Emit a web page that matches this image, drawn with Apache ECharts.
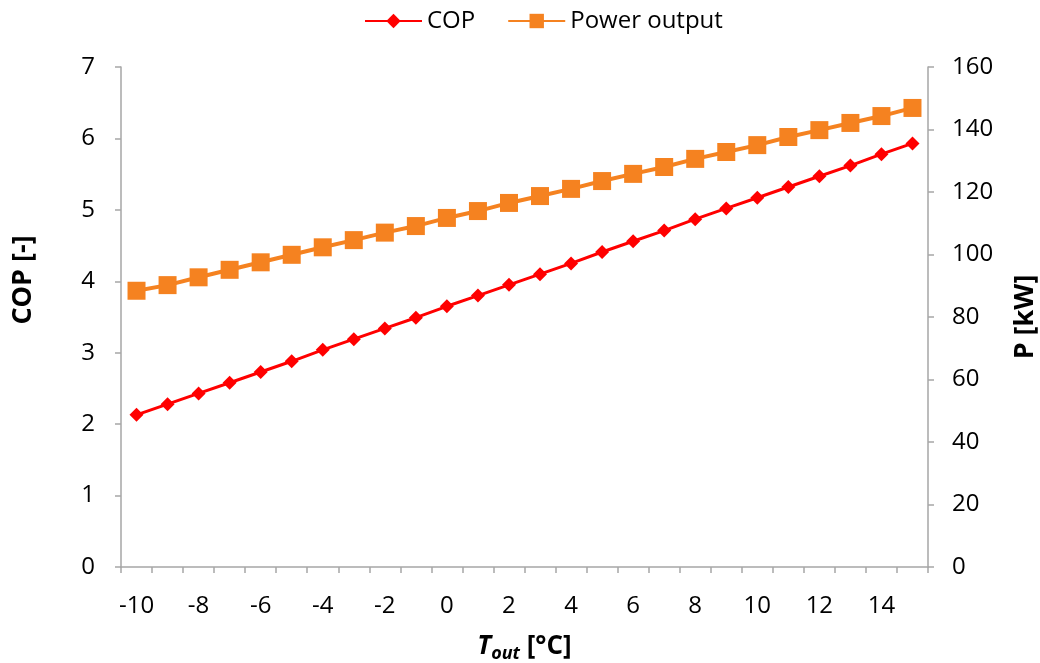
<!DOCTYPE html>
<html>
<head>
<meta charset="utf-8">
<script src="https://cdn.jsdelivr.net/npm/echarts@6/dist/echarts.min.js"></script>
<style>
html,body{margin:0;padding:0;background:#fff;}
#chart{width:1040px;height:663px;}
</style>
</head>
<body>
<div id="chart"></div>
<script>
const categories = ['-10','-9','-8','-7','-6','-5','-4','-3','-2','-1','0','1','2','3','4','5','6','7','8','9','10','11','12','13','14','15'];
const copValues = [2.13,2.28,2.43,2.58,2.73,2.88,3.04,3.19,3.34,3.49,3.65,3.80,3.95,4.10,4.25,4.41,4.56,4.71,4.87,5.02,5.17,5.32,5.47,5.62,5.78,5.93];
const powerValues = [88.4,90.2,92.7,95.1,97.5,99.9,102.3,104.6,107.0,109.1,111.7,113.9,116.5,118.7,121.0,123.5,125.8,128.0,130.6,132.8,135.0,137.6,139.8,142.1,144.3,146.9];

const FONT = '"Open Sans", "Liberation Sans", sans-serif';
const axisGray = '#A6A6A6';

const chart = echarts.init(document.getElementById('chart'), null, {renderer: 'canvas'});
chart.setOption({
  animation: false,
  backgroundColor: '#fff',
  textStyle: {fontFamily: FONT},
  legend: {
    top: 4,
    left: 359,
    itemWidth: 57,
    itemHeight: 18,
    itemGap: 32,
    textStyle: {fontSize: 24, color: '#000', fontFamily: FONT},
    data: ['COP', 'Power output']
  },
  grid: {left: 121, right: 112, top: 67, bottom: 96, containLabel: false, outerBoundsMode: 'none'},
  xAxis: {
    type: 'category',
    data: categories,
    boundaryGap: true,
    axisLine: {lineStyle: {color: axisGray, width: 1.5}},
    axisTick: {show: true, interval: 0, length: 6, lineStyle: {color: axisGray, width: 1.5}},
    axisLabel: {interval: 1, margin: 27, fontSize: 24, color: '#000', fontFamily: FONT},
    splitLine: {show: false},
    name: '{t|T}{s|out}{n| [°C]}',
    nameLocation: 'middle',
    nameGap: 64,
    nameTextStyle: {
      rich: {
        t: {fontSize: 26, fontWeight: 'bold', fontStyle: 'italic', color: '#000', fontFamily: FONT},
        s: {fontSize: 18, fontWeight: 'bold', fontStyle: 'italic', color: '#000', fontFamily: FONT, padding: [14, 0, 0, 0]},
        n: {fontSize: 26, fontWeight: 'bold', color: '#000', fontFamily: FONT}
      }
    }
  },
  yAxis: [
    {
      type: 'value',
      min: 0, max: 7, interval: 1,
      position: 'left',
      axisLine: {show: true, lineStyle: {color: axisGray, width: 1.5}},
      axisTick: {show: true, length: 6, lineStyle: {color: axisGray, width: 1.5}},
      axisLabel: {margin: 26, fontSize: 24, color: '#000', fontFamily: FONT},
      splitLine: {show: false},
      name: 'COP [-]',
      nameLocation: 'middle',
      nameGap: 84,
      nameRotate: 90,
      nameTextStyle: {fontSize: 27, fontWeight: 'bold', color: '#000', fontFamily: FONT, padding: [0, 0, 0, 74]}
    },
    {
      type: 'value',
      min: 0, max: 160, interval: 20,
      position: 'right',
      axisLine: {show: true, lineStyle: {color: axisGray, width: 1.5}},
      axisTick: {show: true, length: 6, lineStyle: {color: axisGray, width: 1.5}},
      axisLabel: {margin: 24, fontSize: 24, color: '#000', fontFamily: FONT},
      splitLine: {show: false},
      name: 'P [kW]',
      nameLocation: 'middle',
      nameGap: 84,
      nameRotate: 90,
      nameTextStyle: {fontSize: 27, fontWeight: 'bold', color: '#000', fontFamily: FONT}
    }
  ],
  series: [
    {
      name: 'COP',
      type: 'line',
      yAxisIndex: 0,
      data: copValues,
      symbol: 'diamond',
      symbolSize: 14,
      showAllSymbol: true,
      lineStyle: {color: '#FF0000', width: 3},
      itemStyle: {color: '#FF0000'}
    },
    {
      name: 'Power output',
      type: 'line',
      yAxisIndex: 1,
      data: powerValues,
      symbol: 'rect',
      symbolSize: 18,
      showAllSymbol: true,
      lineStyle: {color: '#F58220', width: 4},
      itemStyle: {color: '#F58220'}
    }
  ]
});
</script>
</body>
</html>
